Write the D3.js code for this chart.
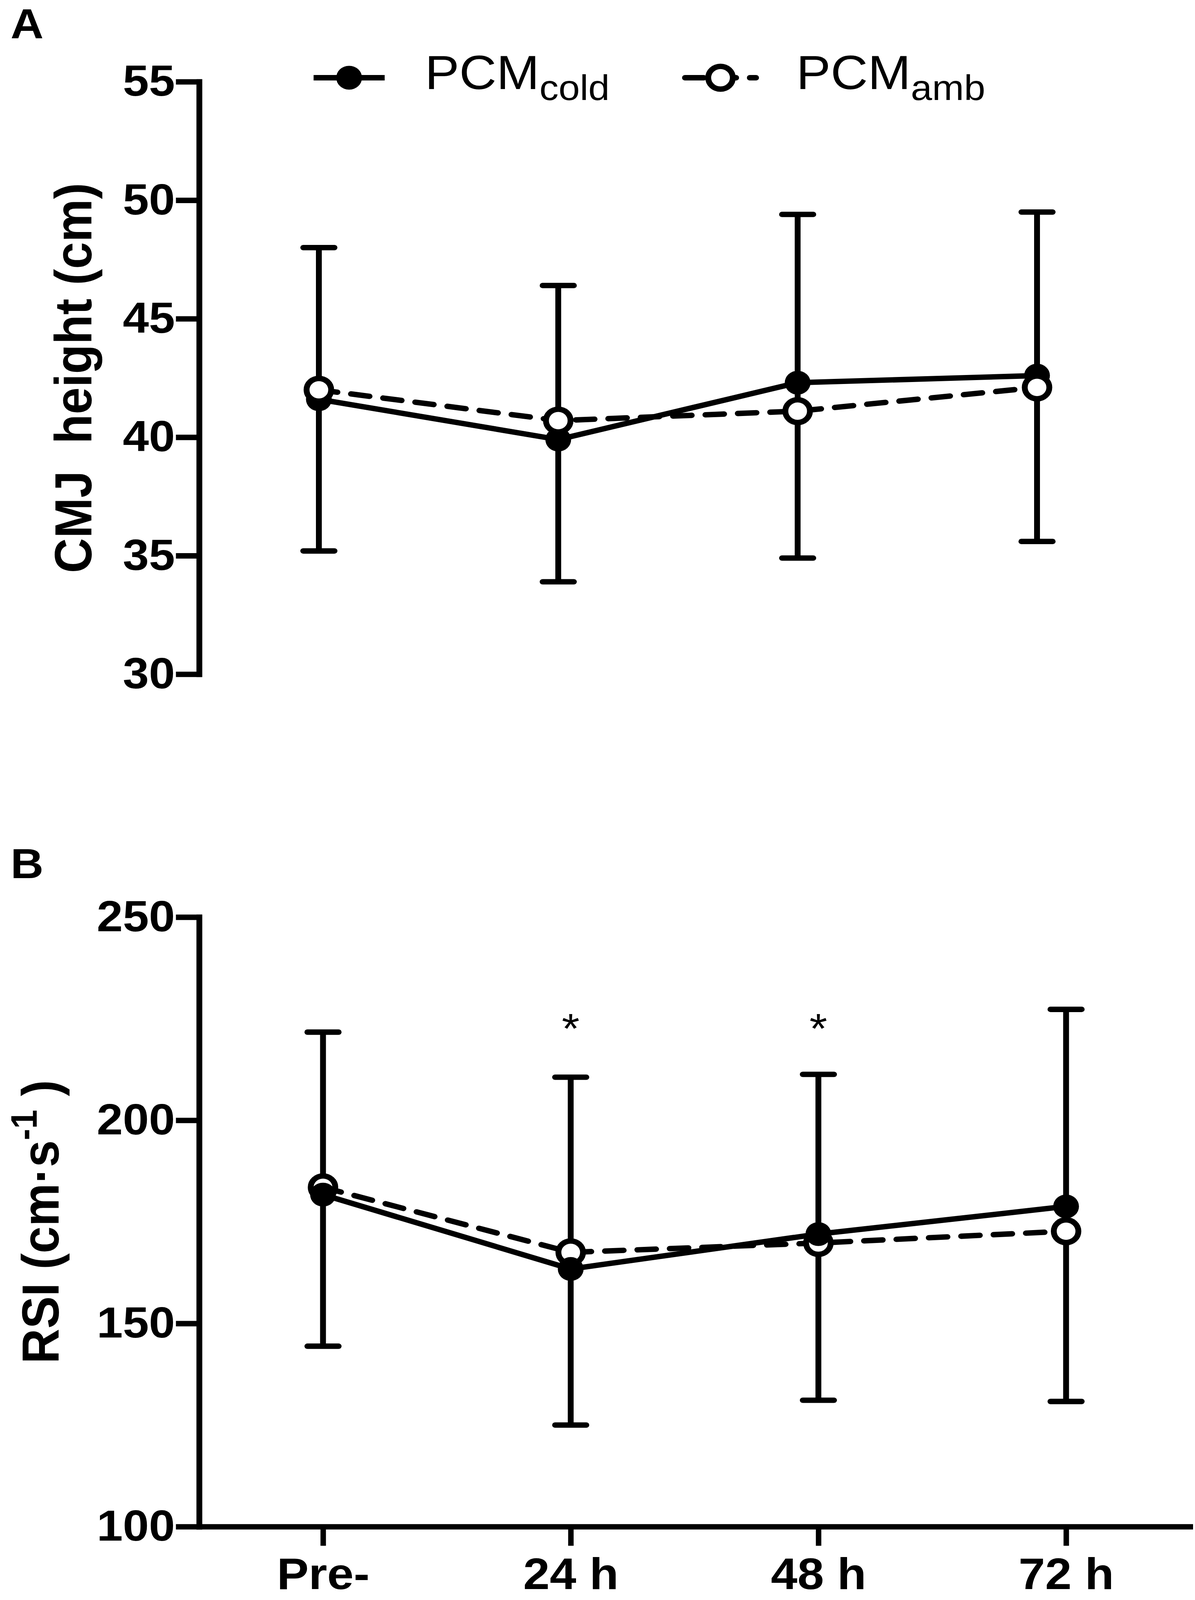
<!DOCTYPE html>
<html>
<head>
<meta charset="utf-8">
<script src="https://cdn.jsdelivr.net/npm/d3@7"></script>
<style>
  html, body { margin: 0; padding: 0; background: #fff; overflow: hidden; }
  svg { display: block; }
</style>
</head>
<body>
<svg id="chart"></svg>
<script>
// data
var categories = ['Pre-', '24 h', '48 h', '72 h']
var cmjCold = [41.6, 39.9, 42.3, 42.6]
var cmjAmb = [42.0, 40.7, 41.1, 42.1]
var cmjErrHigh = [48.0, 46.4, 49.4, 49.5]
var cmjErrLow = [35.2, 33.9, 34.9, 35.6]
var cmjTicks = [30, 35, 40, 45, 50, 55]

var rsiCold = [181.7, 163.4, 172.0, 178.8]
var rsiAmb = [183.5, 167.5, 169.8, 172.7]
var rsiErrHigh = [221.7, 210.6, 211.3, 227.3]
var rsiErrLow = [144.4, 125.0, 131.1, 130.8]
var rsiTicks = [100, 150, 200, 250]
var sigCategories = ['24 h', '48 h']

var width = 3060
var height = 4426
var font = '"Liberation Sans", Arial, Helvetica, sans-serif'
var lw = 15

// the figure is laid out at 3060x4426 and fitted to whatever the window shows
var svg = d3.select('#chart')
  .attr('viewBox', '0 0 ' + width + ' ' + height)
  .attr('preserveAspectRatio', 'none')
  .attr('width', window.innerWidth || width)
  .attr('height', window.innerHeight || height)
svg.append('rect').attr('width', width).attr('height', height).attr('fill', '#fff')

function zip(vals) {
  return vals.map(function (v, i) { return {cat: categories[i], v: v} })
}

function panel(opt) {
  var g = svg.append('g')
  var x = d3.scalePoint().domain(categories).range(opt.xRange).padding(0.5)
  var y = d3.scaleLinear().domain(opt.yDomain).range(opt.yRange)

  // y axis
  var yAxis = g.append('g').attr('transform', 'translate(' + opt.xRange[0] + ',0)')
    .call(d3.axisLeft(y).tickValues(opt.ticks).tickSize(52).tickSizeOuter(0).tickPadding(10))
  yAxis.selectAll('path, line').attr('stroke', '#000').attr('stroke-width', lw).attr('stroke-linecap', 'square')
  yAxis.selectAll('text').attr('font-family', font).attr('font-weight', 'bold')
    .attr('font-size', 120).attr('fill', '#000')

  if (opt.showX) {
    var xAxis = g.append('g').attr('transform', 'translate(0,' + opt.yRange[0] + ')')
      .call(d3.axisBottom(x).tickSize(53).tickSizeOuter(0).tickPadding(33))
    xAxis.selectAll('path').attr('stroke', '#000').attr('stroke-width', lw).attr('stroke-linecap', 'square')
    xAxis.selectAll('line').attr('stroke', '#000').attr('stroke-width', 14)
    xAxis.selectAll('text').attr('font-family', font).attr('font-weight', 'bold')
      .attr('font-size', 122).attr('fill', '#000')
  }

  // error bars
  var eb = g.append('g').attr('stroke', '#000').attr('stroke-width', lw).attr('stroke-linecap', 'round')
  categories.forEach(function (c, i) {
    var cx = x(c)
    var y1 = y(opt.errHigh[i])
    var y2 = y(opt.errLow[i])
    eb.append('line').attr('x1', cx).attr('x2', cx).attr('y1', y1).attr('y2', y2).attr('stroke-linecap', 'butt')
    eb.append('line').attr('x1', cx - 40).attr('x2', cx + 40).attr('y1', y1).attr('y2', y1)
    eb.append('line').attr('x1', cx - 40).attr('x2', cx + 40).attr('y1', y2).attr('y2', y2)
  })

  var line = d3.line().x(function (d) { return x(d.cat) }).y(function (d) { return y(d.v) })

  opt.order.forEach(function (s) {
    var data = zip(s.values)
    g.append('path').datum(data).attr('d', line)
      .attr('fill', 'none').attr('stroke', '#000').attr('stroke-width', lw)
      .attr('stroke-linejoin', 'round').attr('stroke-linecap', s.dashed ? 'round' : 'butt')
      .attr('stroke-dasharray', s.dashed ? '48,35' : null)
    g.selectAll(null).data(data).enter().append('circle')
      .attr('cx', function (d) { return x(d.cat) })
      .attr('cy', function (d) { return y(d.v) })
      .attr('r', s.dashed ? 31.5 : 33)
      .attr('fill', s.dashed ? '#fff' : '#000')
      .attr('stroke', '#000').attr('stroke-width', s.dashed ? lw : 0)
  })

  // y title
  var t = g.append('text')
    .attr('transform', 'translate(' + opt.titleX + ',' + (opt.yRange[0] + opt.yRange[1]) / 2 + ') rotate(-90)')
    .attr('text-anchor', 'middle').attr('font-family', font).attr('font-weight', 'bold')
    .attr('font-size', 134).attr('fill', '#000')
  opt.title(t)

  // panel letter
  g.append('text').attr('x', 27).attr('y', opt.letterY).text(opt.letter)
    .attr('font-family', font).attr('font-weight', 'bold').attr('font-size', 117).attr('fill', '#000')

  return {g: g, x: x, y: y}
}

var pA = panel({
  xRange: [510, 2962], yDomain: [30, 55], yRange: [1865, 226], ticks: cmjTicks,
  errHigh: cmjErrHigh, errLow: cmjErrLow, showX: false,
  order: [{values: cmjCold, dashed: false}, {values: cmjAmb, dashed: true}],
  titleX: 234, letter: 'A', letterY: 106,
  title: function (t) { t.attr('xml:space', 'preserve').text('CMJ  height (cm)') }
})

var pB = panel({
  xRange: [510, 3047], yDomain: [100, 250], yRange: [4223, 2537], ticks: rsiTicks,
  errHigh: rsiErrHigh, errLow: rsiErrLow, showX: true,
  order: [{values: rsiAmb, dashed: true}, {values: rsiCold, dashed: false}],
  titleX: 150, letter: 'B', letterY: 2429,
  title: function (t) {
    t.append('tspan').text('RSI (cm\u00b7s')
    t.append('tspan').attr('font-size', 95).attr('dy', -56).text('-1')
    t.append('tspan').attr('dy', 56).text(' )')
  }
})

// significance markers
pB.g.selectAll('.sig').data(sigCategories).enter().append('text')
  .attr('x', function (d) { return pB.x(d) })
  .attr('y', pB.y(225) + 67)
  .attr('text-anchor', 'middle').attr('font-family', font)
  .attr('font-size', 117).attr('fill', '#000').text('*')

// legend
var legend = svg.append('g')
var items = [
  {label: 'PCM', sub: 'cold', x: 803, dashed: false},
  {label: 'PCM', sub: 'amb', x: 1754, dashed: true}
]
items.forEach(function (it) {
  var ly = 215
  legend.append('line').attr('x1', it.x).attr('x2', it.x + 182).attr('y1', ly).attr('y2', ly)
    .attr('stroke', '#000').attr('stroke-width', lw)
    .attr('stroke-linecap', it.dashed ? 'round' : 'butt')
    .attr('stroke-dasharray', it.dashed ? '48,35' : null)
  legend.append('circle').attr('cx', it.x + 91).attr('cy', ly)
    .attr('r', it.dashed ? 31.5 : 33)
    .attr('fill', it.dashed ? '#fff' : '#000')
    .attr('stroke', '#000').attr('stroke-width', it.dashed ? lw : 0)
  var t = legend.append('text').attr('x', it.x + 285).attr('y', 246)
    .attr('font-family', font).attr('font-size', 132).attr('fill', '#000')
  t.append('tspan').text(it.label)
  t.append('tspan').attr('font-size', 98).attr('dy', 31).text(it.sub)
})
</script>
</body>
</html>
